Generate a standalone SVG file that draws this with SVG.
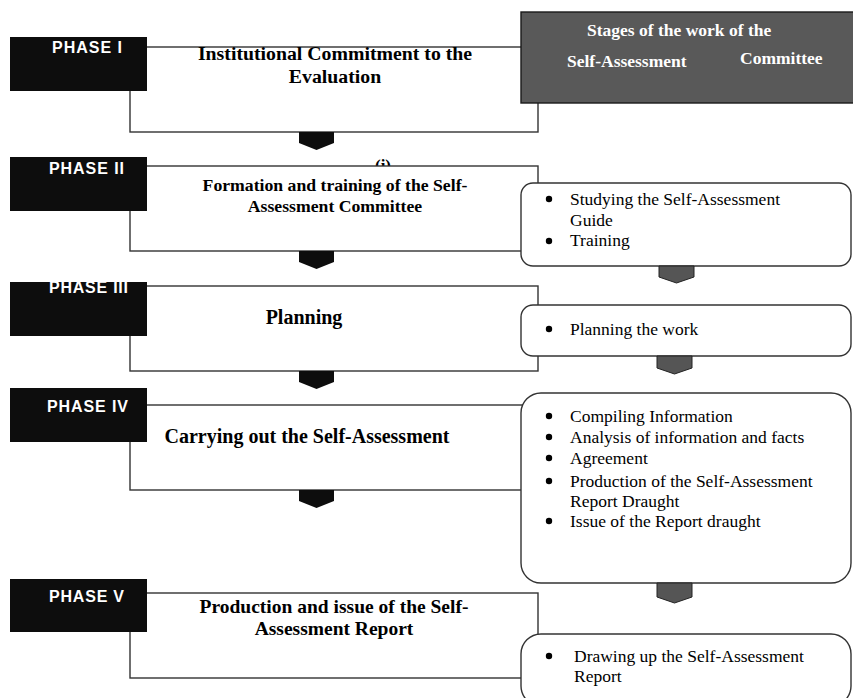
<svg xmlns="http://www.w3.org/2000/svg" width="853" height="698" viewBox="0 0 853 698">
<style>
.wbox{fill:#fff;stroke:#333;stroke-width:1.4}
.rbox{fill:#fff;stroke:#333;stroke-width:1.4}
.blk{fill:#0d0d0d}
.ph{font-family:"Liberation Sans",Arial,sans-serif;font-weight:bold;font-size:16px;fill:#fff}
.tt{font-family:"Liberation Serif","Times New Roman",serif;font-weight:bold;fill:#000;text-anchor:middle}
.hd{font-family:"Liberation Serif","Times New Roman",serif;font-weight:bold;font-size:17.5px;fill:#fff}
.it{font-family:"Liberation Serif","Times New Roman",serif;font-size:17.5px;fill:#000}
.bul{fill:#000}
.arL{fill:#0d0d0d}
.arR{fill:#555;stroke:#222;stroke-width:1}
</style>
<rect width="853" height="698" fill="#fff"/>
<text x="383" y="171" class="tt" font-size="17px">(i)</text>

<g id="phase1">
<rect class="wbox" x="130" y="47" width="408" height="85"/>
<text x="335" y="60" class="tt" font-size="19.8px">Institutional Commitment to the</text>
<text x="335" y="83" class="tt" font-size="19.8px">Evaluation</text>
<rect class="blk" x="10" y="37" width="137" height="54"/>
<text x="52" y="53" class="ph" textLength="70">PHASE I</text>
</g>

<g id="header">
<rect x="521" y="12" width="340" height="91" fill="#595959" stroke="#1a1a1a" stroke-width="1.4"/>
<text x="587" y="36" class="hd">Stages of the work of the</text>
<text x="567" y="67" class="hd">Self-Assessment</text>
<text x="740" y="64" class="hd">Committee</text>
</g>

<g id="phase2">
<rect class="wbox" x="130" y="166" width="408" height="85"/>
<text x="335" y="191" class="tt" font-size="17.7px">Formation and training of the Self-</text>
<text x="335" y="212" class="tt" font-size="17.7px">Assessment Committee</text>
<rect class="blk" x="10" y="157" width="137" height="54"/>
<text x="49" y="174" class="ph" textLength="75">PHASE II</text>
</g>

<g id="phase3">
<rect class="wbox" x="130" y="286" width="408" height="85"/>
<text x="304" y="324" class="tt" font-size="20px">Planning</text>
<rect class="blk" x="10" y="282" width="137" height="54"/>
<text x="49" y="293" class="ph" textLength="79">PHASE III</text>
</g>

<g id="phase4">
<rect class="wbox" x="130" y="405" width="408" height="85"/>
<text x="307" y="443" class="tt" font-size="20px">Carrying out the Self-Assessment</text>
<rect class="blk" x="10" y="388" width="137" height="54"/>
<text x="47" y="412" class="ph" textLength="81">PHASE IV</text>
</g>

<g id="phase5">
<rect class="wbox" x="130" y="593" width="408" height="85"/>
<text x="334" y="613" class="tt" font-size="19.5px">Production and issue of the Self-</text>
<text x="334" y="635" class="tt" font-size="19.5px">Assessment Report</text>
<rect class="blk" x="10" y="579" width="137" height="53"/>
<text x="49" y="602" class="ph" textLength="75">PHASE V</text>
</g>

<g id="tasks2">
<rect class="rbox" x="521" y="183" width="330" height="83" rx="12"/>
<circle class="bul" cx="549" cy="199" r="3.2"/>
<text x="570" y="205" class="it">Studying the Self-Assessment</text>
<text x="570" y="226" class="it">Guide</text>
<circle class="bul" cx="549" cy="241" r="3.2"/>
<text x="570" y="246" class="it">Training</text>
</g>

<g id="tasks3">
<rect class="rbox" x="521" y="305" width="330" height="51" rx="12"/>
<circle class="bul" cx="549" cy="329" r="3.2"/>
<text x="570" y="335" class="it">Planning the work</text>
</g>

<g id="tasks4">
<rect class="rbox" x="521" y="393" width="330" height="190" rx="20"/>
<circle class="bul" cx="549" cy="416" r="3.2"/>
<text x="570" y="422" class="it">Compiling Information</text>
<circle class="bul" cx="549" cy="437" r="3.2"/>
<text x="570" y="443" class="it">Analysis of information and facts</text>
<circle class="bul" cx="549" cy="458" r="3.2"/>
<text x="570" y="464" class="it">Agreement</text>
<circle class="bul" cx="549" cy="481" r="3.2"/>
<text x="570" y="487" class="it">Production of the Self-Assessment</text>
<text x="570" y="507" class="it">Report Draught</text>
<circle class="bul" cx="549" cy="521" r="3.2"/>
<text x="570" y="527" class="it">Issue of the Report draught</text>
</g>

<g id="tasks5">
<rect class="rbox" x="521" y="634" width="330" height="72" rx="20"/>
<circle class="bul" cx="549" cy="656" r="3.2"/>
<text x="574" y="662" class="it">Drawing up the Self-Assessment</text>
<text x="574" y="682" class="it">Report</text>
</g>

<g id="connectors">
<path class="arL" d="M299,132 H334 V143 L316.5,150 L299,143 Z"/>
<path class="arL" d="M299,251 H334 V262 L316.5,269 L299,262 Z"/>
<path class="arL" d="M299,371 H334 V382 L316.5,389 L299,382 Z"/>
<path class="arL" d="M299,490 H334 V501 L316.5,508 L299,501 Z"/>
<path class="arR" d="M659,266 H694 V277 L676.5,283 L659,277 Z"/>
<path class="arR" d="M657,356 H692 V368 L674.5,374 L657,368 Z"/>
<path class="arR" d="M657,583 H692 V597 L674.5,603 L657,597 Z"/>
</g>
</svg>
